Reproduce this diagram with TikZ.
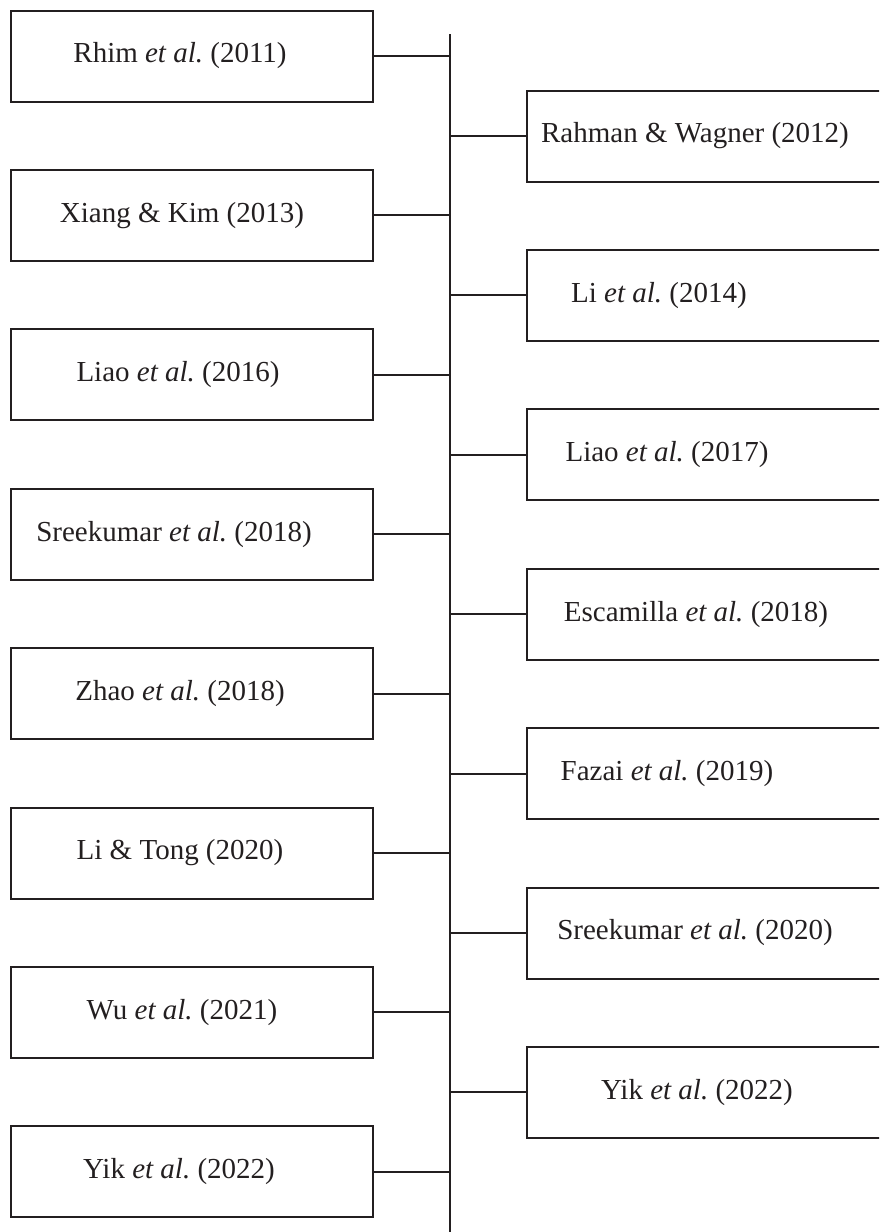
\documentclass[tikz,border=0pt]{standalone}
\usepackage{fontspec}
\setmainfont{Liberation Serif}
\frenchspacing
\definecolor{ink}{HTML}{231F20}
\begin{document}
\begin{tikzpicture}[x=1pt,y=-1pt,
  lbl/.style={font=\fontsize{29}{34}\selectfont, text=ink, inner sep=0pt},
  entrybox/.style={draw=ink, line width=2pt, minimum height=91pt, inner sep=0pt},
  leftbox/.style={entrybox, minimum width=362pt},
  rightbox/.style={entrybox, minimum width=370pt},
  link/.style={draw=ink, line width=2pt}]
\useasboundingbox (0,0) rectangle (879,1232);
\clip (0,0) rectangle (879,1232);

% central time axis
\coordinate (axtop) at (450,34);
\coordinate (axbot) at (450,1232);
\draw[link] (axtop) -- (axbot);

% entries on the left of the axis
\foreach \t/\dx [count=\k] in {
  Rhim \textit{et al.} (2011)/-12,
  Xiang \& Kim (2013)/-10,
  Liao \textit{et al.} (2016)/-14,
  Sreekumar \textit{et al.} (2018)/-18,
  Zhao \textit{et al.} (2018)/-12,
  Li \& Tong (2020)/-12,
  Wu \textit{et al.} (2021)/-10,
  Yik \textit{et al.} (2022)/-13}{
  \node[leftbox, label={[lbl, xshift=\dx pt]center:\t}] (L\k) at (192,{56+159.4*(\k-1)}) {};
  \draw[link] (L\k.east) -- (L\k.east -| axtop);
}

% entries on the right of the axis
\foreach \t/\dx [count=\k] in {
  Rahman \& Wagner (2012)/-17,
  Li \textit{et al.} (2014)/-53,
  Liao \textit{et al.} (2017)/-45,
  Escamilla \textit{et al.} (2018)/-16,
  Fazai \textit{et al.} (2019)/-45,
  Sreekumar \textit{et al.} (2020)/-17,
  Yik \textit{et al.} (2022)/-15}{
  \node[rightbox, label={[lbl, xshift=\dx pt]center:\t}] (R\k) at (712,{136+159.4*(\k-1)}) {};
  \draw[link] (R\k.west -| axtop) -- (R\k.west);
}
\end{tikzpicture}
\end{document}
